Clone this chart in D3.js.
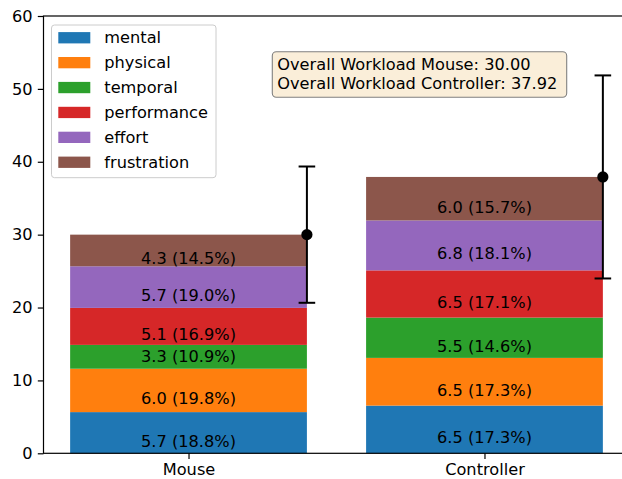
<!DOCTYPE html>
<html><head><meta charset="utf-8">
<script src="https://cdn.jsdelivr.net/npm/d3@7"></script>
<style>body{margin:0;background:#fff}svg{display:block}text{font-family:"DejaVu Sans",sans-serif}</style>
</head><body><svg id="c" width="622" height="479"></svg>
<script>
const categories = ["Mouse", "Controller"];
const dimensions = ["mental", "physical", "temporal", "performance", "effort", "frustration"];
const mouseValues = [5.652, 5.952, 3.27, 5.076, 5.71, 4.34];
const controllerValues = [6.545, 6.545, 5.53, 6.48, 6.848, 5.97];
const stdDevs = [9.35, 13.93];
const yTicks = [0, 10, 20, 30, 40, 50, 60];
const colors = ["#1f77b4", "#ff7f0e", "#2ca02c", "#d62728", "#9467bd", "#8c564b"];

const FS = "16.2px";
const series = [mouseValues, controllerValues];
const totals = series.map(s => d3.sum(s));

const svg = d3.select("#c");
const x = d3.scaleLinear().domain([-0.49, 1.49]).range([43.5, 629.5]);
const y = d3.scaleLinear().domain([0, 60]).range([453.3, 16]);
const bw = 0.8;

// bars
series.forEach((vals, i) => {
  let base = 0;
  vals.forEach((v, j) => {
    const g = svg.append("g");
    g.append("rect")
      .attr("x", x(i - bw / 2)).attr("width", x(i + bw / 2) - x(i - bw / 2))
      .attr("y", y(base + v)).attr("height", y(base) - y(base + v))
      .attr("fill", colors[j]);
    const pct = v / totals[i] * 100;
    // label hangs from segment centre; thin segments get a centred label
    const off = v < 4 ? 0 : 8.5;
    g.append("text")
      .attr("x", x(i)).attr("y", y(base + v / 2) + off)
      .attr("text-anchor", "middle").attr("dominant-baseline", "central")
      .attr("font-size", FS).attr("fill", "#000")
      .text(`${v.toFixed(1)} (${pct.toFixed(1)}%)`);
    base += v;
  });
});

// error bars
series.forEach((vals, i) => {
  const cx = x(i + bw / 2);
  const m = totals[i], s = stdDevs[i];
  const g = svg.append("g").attr("stroke", "#000").attr("stroke-width", 2);
  g.append("line").attr("x1", cx).attr("x2", cx).attr("y1", y(m - s)).attr("y2", y(m + s));
  [m - s, m + s].forEach(t => g.append("line").attr("x1", cx - 8.3).attr("x2", cx + 8.3).attr("y1", y(t)).attr("y2", y(t)));
  svg.append("circle").attr("cx", cx).attr("cy", y(m)).attr("r", 5.6).attr("fill", "#000");
});

// axes
const yAxis = d3.axisLeft(y).tickValues(yTicks).tickSize(5.7).tickPadding(5.2).tickFormat(d3.format("d"));
const yg = svg.append("g").attr("transform", `translate(${x(-0.49)},0)`).call(yAxis);
const xAxis = d3.axisBottom(x).tickValues([0, 1]).tickSize(5.7).tickPadding(5).tickFormat(d => categories[d]);
const xg = svg.append("g").attr("transform", `translate(0,${y(0)})`).call(xAxis);
[yg, xg].forEach(g => {
  g.selectAll("text").attr("font-size", FS).attr("fill", "#000").style("font-family", "DejaVu Sans");
  g.selectAll("line").attr("stroke", "#000").attr("stroke-width", 1.2);
  g.select(".domain").remove();
});
svg.append("rect").attr("x", x(-0.49)).attr("y", y(60)).attr("width", x(1.49) - x(-0.49)).attr("height", y(0) - y(60))
  .attr("fill", "none").attr("stroke", "#000").attr("stroke-width", 1.2);

// legend
const lg = svg.append("g");
lg.append("rect").attr("x", 51.5).attr("y", 25).attr("width", 164.5).attr("height", 152.7).attr("rx", 3)
  .attr("fill", "#fff").attr("fill-opacity", 0.8).attr("stroke", "#cccccc").attr("stroke-width", 1);
dimensions.forEach((d, j) => {
  const cy = 37.7 + j * 24.9;
  lg.append("rect").attr("x", 58.3).attr("y", cy - 5.6).attr("width", 32).attr("height", 11.3).attr("fill", colors[j]);
  lg.append("text").attr("x", 104.3).attr("y", cy).attr("dominant-baseline", "central")
    .attr("font-size", FS).attr("fill", "#000").text(d);
});

// text box
const tb = svg.append("g");
tb.append("rect").attr("x", 272.3).attr("y", 51.7).attr("width", 294.4).attr("height", 45.6).attr("rx", 4)
  .attr("fill", "#faeed9").attr("stroke", "#808080").attr("stroke-width", 1.1);
categories.forEach((c, i) => {
  tb.append("text").attr("x", 277.3).attr("y", 69.8 + i * 18.7).attr("font-size", FS).attr("fill", "#000")
    .text(`Overall Workload ${c}: ${totals[i].toFixed(2)}`);
});
</script></body></html>
